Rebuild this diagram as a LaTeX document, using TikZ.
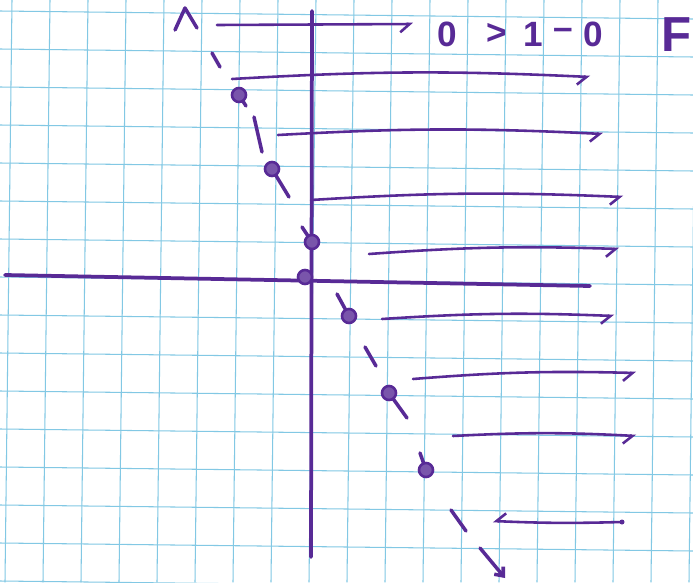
\documentclass[tikz,border=0pt]{standalone}
\usepackage{fontspec}
\setmainfont{Liberation Sans}
\usetikzlibrary{arrows.meta}
\definecolor{ink}{RGB}{88,42,150}
\definecolor{gridblue}{RGB}{130,200,228}

\begin{document}
\begin{tikzpicture}[
    x=0.03cm,y=-0.03cm,
    line cap=round,
    line join=round,
    gridline/.style={draw=gridblue,line width=0.9pt},
    axis/.style={draw=ink,line width=3.2pt},
    flowline/.style={draw=ink,line width=2.2pt,
        -{Straight Barb[harpoon,swap,length=8pt,width=14pt,line width=2.2pt]}},
    dashmark/.style={draw=ink,line width=3pt},
    fixdot/.style={circle,draw=ink,fill=ink!80,line width=2.2pt,
        minimum size=0.42cm,inner sep=0pt},
    glyph/.style={text=ink,font=\bfseries\fontsize{30}{32}\selectfont},
]

\useasboundingbox (0,0) rectangle (693,582);
\fill[white] (0,0) rectangle (693,582);

% graph paper, slightly tilted
\foreach \x in {12,50,...,700}
    \draw[gridline] (\x,0) -- (\x-7,582);
\foreach \y in {11,49,...,590}
    \draw[gridline] (0,\y) -- (693,\y+8);

% axes
\coordinate (Vtop) at (312,11);
\coordinate (Vbot) at (311,557);
\coordinate (Hleft) at (5,275);
\coordinate (Hright) at (590,286);

\draw[axis] (Vtop) -- (Vbot);
\draw[axis] (Hleft) -- (Hright);

% flow to the right
\draw[flowline] (217,25) -- (413,24);
\foreach \xa/\ya/\xb/\yb in {232/79/590/77, 278/135/603/134,
        311/200/623/197, 369/254/619/249, 382/319/614/316,
        413/379/636/373, 453/436/636/436}
    \draw[flowline] (\xa,\ya) to[bend left=3] (\xb,\yb);

% flow to the left
\coordinate (Bright) at (622,522);
\coordinate (Bleft) at (493,521);
\draw[flowline] (Bright) to[bend left=2] (Bleft);
\fill[ink] (Bright) circle (2.5);

% dashed line of fixed points
\draw[dashmark] (175,30) -- (185,8) -- (197,28);
\foreach \xa/\ya/\xb/\yb in {212/53/220/67, 239/95/246/106,
        254/117/262/152, 272/169/289/197, 302/227/312/242,
        337/294/349/316, 365/347/376/366, 389/393/407/418,
        420/453/426/470, 451/510/466/531}
    \draw[dashmark] (\xa,\ya) -- (\xb,\yb);
\draw[dashmark,-{Straight Barb[length=6pt,width=10pt,line width=3pt]}]
    (480,548) -- (505,578);

\foreach \x/\y [count=\i] in {239/95, 272/169, 312/242, 305/277,
        349/316, 389/393, 426/470}
    \node[fixdot] (d\i) at (\x,\y) {};

% label
\foreach \x/\t [count=\i] in {447/0, 497/>, 533/1, 563/–, 593/0}
    \node[glyph] (t\i) at (\x,34) {\t};
\node[glyph,anchor=west,font=\bfseries\fontsize{42}{44}\selectfont]
    (tF) at (657,35) {F};

\end{tikzpicture}
\end{document}
